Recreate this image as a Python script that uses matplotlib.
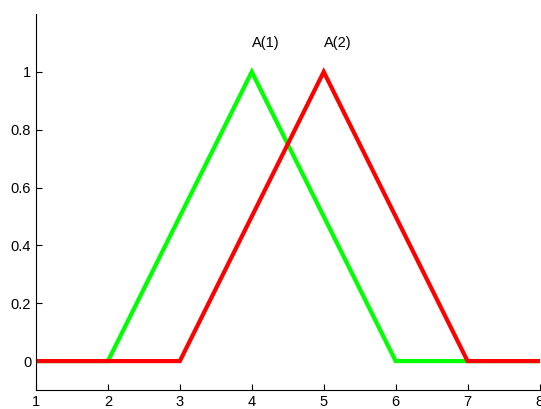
import matplotlib.pyplot as plt

x_green = [1, 2, 4, 6, 8]
y_green = [0, 0, 1, 0, 0]
x_red = [1, 3, 5, 7, 8]
y_red = [0, 0, 1, 0, 0]
labels = ["A(1)", "A(2)"]
label_x = [4, 5]
label_y = 1.1

plt.rcParams['font.family'] = ['Liberation Sans', 'DejaVu Sans']

fig = plt.figure(figsize=(5.41, 4.09), dpi=100)
ax = fig.add_axes([36 / 541, 19 / 409, 503.5 / 541, 376 / 409])

ax.plot(x_green, y_green, color=(0, 1, 0), lw=3, solid_joinstyle='miter')
ax.plot(x_red, y_red, color=(1, 0, 0), lw=3, solid_joinstyle='miter')

# labels start at the peak of each triangle
for t, lx in zip(labels, label_x):
    ax.text(lx, label_y, t, ha='left', va='center', fontsize=10.5)

ax.set_xlim(1, 8)
ax.set_ylim(-0.1, 1.2)
ax.set_xticks(range(1, 9))
ax.set_yticks([0, 0.2, 0.4, 0.6, 0.8, 1])
ax.set_yticklabels(["0", "0.2", "0.4", "0.6", "0.8", "1"])
ax.tick_params(direction='in', length=4, width=0.8, labelsize=10.5, pad=3.5)
ax.spines['top'].set_visible(False)
ax.spines['right'].set_visible(False)
for s in ['left', 'bottom']:
    ax.spines[s].set_linewidth(0.8)

fig.savefig("out.png", dpi=100)
